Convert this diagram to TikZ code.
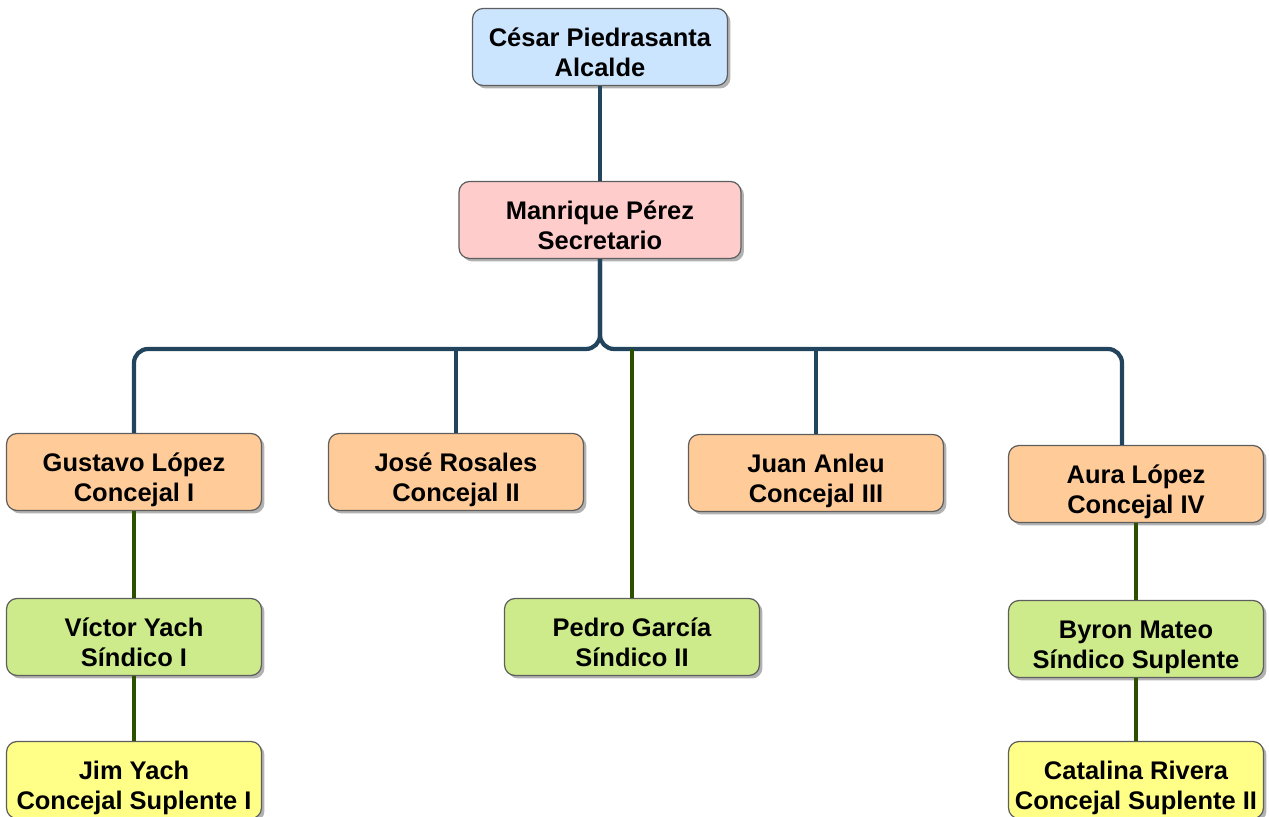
\documentclass[tikz,border=0pt]{standalone}
\usepackage{fontspec}
\setmainfont{Liberation Sans}
\usetikzlibrary{shadows}
\definecolor{alcfill}{HTML}{CCE5FF}
\definecolor{secfill}{HTML}{FFCCCC}
\definecolor{confill}{HTML}{FFCC99}
\definecolor{sinfill}{HTML}{CDEB8B}
\definecolor{supfill}{HTML}{FFFF88}
\definecolor{boxgray}{HTML}{5E5E5E}
\definecolor{darkblue}{HTML}{23445D}
\definecolor{darkgreen}{HTML}{2D4F00}
\newcommand{\twoline}[2]{\rule{0pt}{20pt}#1\\#2\rule[-3.5pt]{0pt}{0pt}}

\begin{document}
\begin{tikzpicture}[x=0.02cm,y=-0.02cm,
  box/.style={rounded corners=6pt,draw=boxgray,line width=0.7pt,minimum width=5.1cm,
    minimum height=1.54cm,align=center,inner xsep=2pt,inner ysep=0pt,
    font=\fontsize{14.5}{17.6}\selectfont\bfseries,
    drop shadow={shadow xshift=0.06cm,shadow yshift=-0.06cm,opacity=0.3,fill=black}},
  bl/.style={line width=2.4pt,draw=darkblue,rounded corners=8pt},
  gl/.style={line width=2.3pt,draw=darkgreen}]
\useasboundingbox (0,0) rectangle (1269,817);
\node[box,fill=alcfill] (alc) at (600,47) {\twoline{César Piedrasanta}{Alcalde}};
\node[box,fill=secfill,minimum width=5.64cm] (sec) at (600,220) {\twoline{Manrique Pérez}{Secretario}};
\node[box,fill=confill] (c1) at (134,472) {\twoline{Gustavo López}{Concejal I}};
\node[box,fill=confill] (c2) at (456,472) {\twoline{José Rosales}{Concejal II}};
\node[box,fill=confill] (c3) at (816,473) {\twoline{Juan Anleu}{Concejal III}};
\node[box,fill=confill] (c4) at (1136,484) {\twoline{Aura López}{Concejal IV}};
\node[box,fill=sinfill] (s1) at (134,637) {\twoline{Víctor Yach}{Síndico I}};
\node[box,fill=sinfill] (s2) at (632,637) {\twoline{Pedro García}{Síndico II}};
\node[box,fill=sinfill] (s3) at (1136,639) {\twoline{Byron Mateo}{Síndico Suplente}};
\node[box,fill=supfill] (p1) at (134,780) {\twoline{Jim Yach}{Concejal Suplente I}};
\node[box,fill=supfill] (p2) at (1136,780) {\twoline{Catalina Rivera}{Concejal Suplente II}};
\coordinate (bus) at (600,349);
% alcalde - secretario - concejales
\draw[bl] (alc) -- (sec);
\draw[bl] (sec.south) -- (bus) -| (c1.north);
\draw[bl] (sec.south) -- (bus) -| ([xshift=-0.28cm]c4.north);
\draw[bl] (c2.north) -- (c2.north |- bus);
\draw[bl] (c3.north) -- (c3.north |- bus);
% sindicos y suplentes
\draw[gl] (s2.north) -- (s2.north |- bus);
\draw[gl] (c1) -- (s1); \draw[gl] (s1) -- (p1);
\draw[gl] (c4) -- (s3); \draw[gl] (s3) -- (p2);
\end{tikzpicture}
\end{document}
